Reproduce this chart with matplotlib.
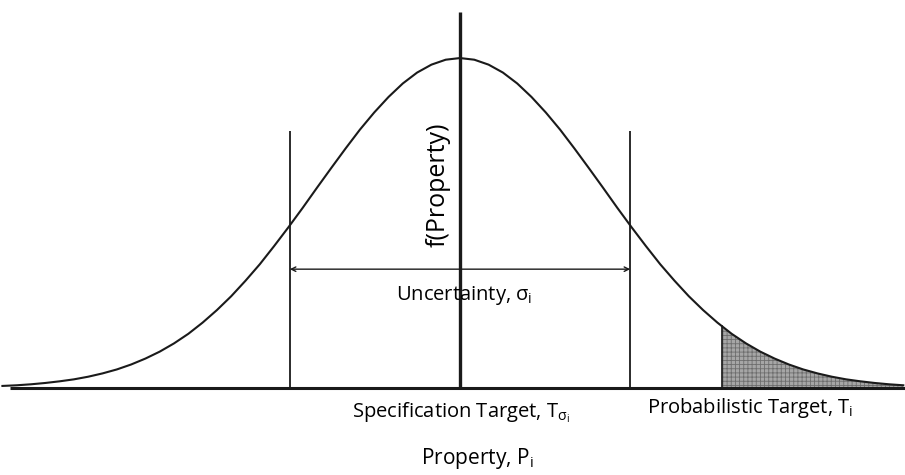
import numpy as np
import matplotlib
matplotlib.use("Agg")
from matplotlib import pyplot as plt

plt.rcParams['font.family'] = ['Open Sans', 'DejaVu Sans']
plt.rcParams['mathtext.fontset'] = 'custom'
plt.rcParams['mathtext.rm'] = 'Open Sans'
plt.rcParams['mathtext.it'] = 'Open Sans'
plt.rcParams['hatch.linewidth'] = 0.6

# property axis (in units of sigma) and relative density
prop = [-3.2, -3.1, -3.0, -2.9, -2.8, -2.7, -2.6, -2.5, -2.4, -2.3, -2.2, -2.1,
        -2.0, -1.9, -1.8, -1.7, -1.6, -1.5, -1.4, -1.3, -1.2, -1.1, -1.0, -0.9,
        -0.8, -0.7, -0.6, -0.5, -0.4, -0.3, -0.2, -0.1, 0.0, 0.1, 0.2, 0.3,
        0.4, 0.5, 0.6, 0.7, 0.8, 0.9, 1.0, 1.1, 1.2, 1.3, 1.4, 1.5, 1.6, 1.7,
        1.8, 1.9, 2.0, 2.1, 2.2, 2.3, 2.4, 2.5, 2.6, 2.7, 2.8, 2.9, 3.0, 3.1]
dens = [0.006, 0.008, 0.011, 0.015, 0.020, 0.026, 0.034, 0.044, 0.056, 0.071,
        0.089, 0.110, 0.135, 0.164, 0.198, 0.236, 0.278, 0.325, 0.375, 0.430,
        0.487, 0.546, 0.607, 0.667, 0.726, 0.783, 0.835, 0.882, 0.923, 0.956,
        0.980, 0.995, 1.000, 0.995, 0.980, 0.956, 0.923, 0.882, 0.835, 0.783,
        0.726, 0.667, 0.607, 0.546, 0.487, 0.430, 0.375, 0.325, 0.278, 0.236,
        0.198, 0.164, 0.135, 0.110, 0.089, 0.071, 0.056, 0.044, 0.034, 0.026,
        0.020, 0.015, 0.011, 0.008]

spec_target = 0.0
spec_limits = [-1.19, 1.19]
prob_target = 1.83

fig = plt.figure(figsize=(9.05, 4.75), dpi=100)
ax = fig.add_axes([0, 0, 1, 1])
ax.set_xlim(-3.217, 3.112)
ax.set_ylim(-0.264, 1.176)
ax.set_axis_off()

ink = '#1a1a1a'

# baseline and vertical axis
ax.plot([-3.15, 3.112], [0, 0], color=ink, lw=2.2, solid_capstyle='butt')
ax.plot([spec_target, spec_target], [0, 1.14], color=ink, lw=2.4, solid_capstyle='butt')

# shaded tail beyond probabilistic target
x = np.array(prop)
y = np.array(dens)
tx = np.concatenate([[prob_target], x[x > prob_target]])
ty = np.interp(tx, x, y)
ax.fill_between(tx, 0, ty, facecolor='#a6a6a6', edgecolor='#6e6e6e',
                hatch='++++', linewidth=0)
ax.plot([prob_target, prob_target], [0, ty[0]], color=ink, lw=1.2)

# distribution
ax.plot(prop, dens, color=ink, lw=1.5)

# uncertainty limits
for s in spec_limits:
    ax.plot([s, s], [0, 0.78], color=ink, lw=1.3, solid_capstyle='butt')
ax.annotate('', xy=(spec_limits[0], 0.36), xytext=(spec_limits[1], 0.36),
            arrowprops=dict(arrowstyle='<->', color=ink, lw=1.0,
                            shrinkA=0, shrinkB=0, mutation_scale=8))

fs = 14.5
ax.text(0.03, 0.28, 'Uncertainty, $\\sigma_{i}$', ha='center', va='center', fontsize=fs)
ax.text(-0.15, 0.615, 'f(Property)', ha='center', va='center', rotation=90, fontsize=18)
ax.text(0.01, -0.075, 'Specification Target, T$_{\\sigma_i}$', ha='center', va='center', fontsize=fs)
ax.text(2.03, -0.06, 'Probabilistic Target, T$_{i}$', ha='center', va='center', fontsize=fs)
ax.text(0.12, -0.215, 'Property, P$_{i}$', ha='center', va='center', fontsize=15)

fig.savefig('out.png', dpi=100)
